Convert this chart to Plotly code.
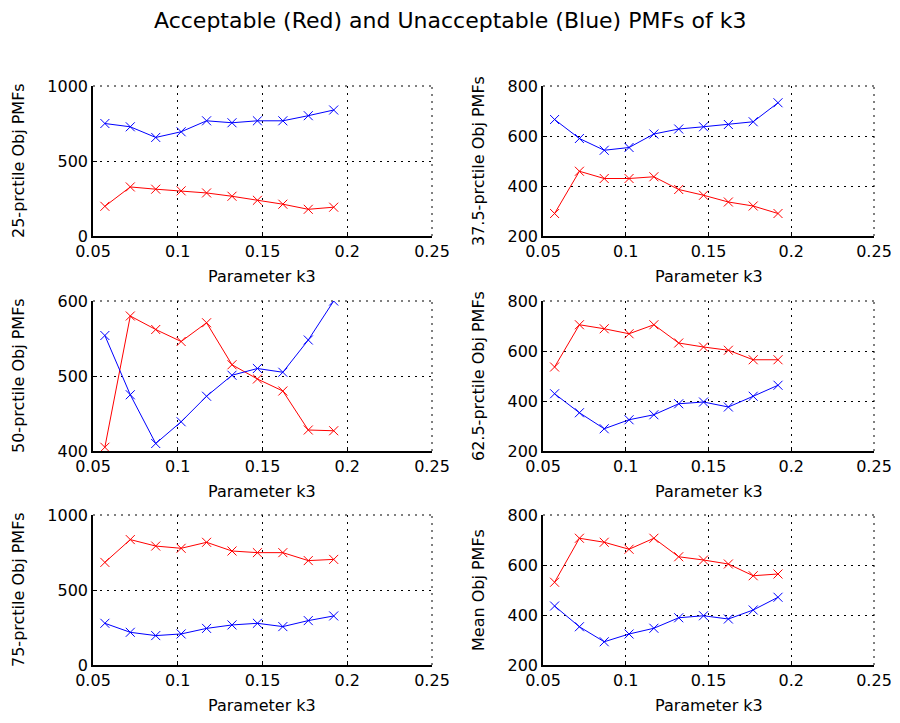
import plotly.graph_objects as go

k3 = [0.057, 0.072, 0.087, 0.102, 0.117, 0.132, 0.147, 0.162, 0.177, 0.192]

p25_red = [198, 327, 312, 301, 287, 265, 238, 212, 178, 192]
p25_blue = [750, 728, 657, 695, 768, 755, 768, 768, 802, 840]

p375_red = [290, 459, 430, 430, 437, 386, 363, 336, 320, 290]
p375_blue = [666, 590, 543, 554, 608, 628, 637, 646, 657, 733]

p50_red = [405, 580, 562, 546, 571, 515, 496, 480, 428, 427]
p50_blue = [554, 475, 410, 439, 473, 501, 510, 505, 548, 600]

p625_red = [536, 705, 689, 669, 705, 632, 616, 603, 565, 565]
p625_blue = [429, 353, 289, 325, 345, 389, 396, 376, 419, 463]

p75_red = [684, 836, 793, 778, 818, 760, 749, 749, 696, 704]
p75_blue = [278, 218, 196, 207, 244, 267, 278, 256, 296, 327]

mean_red = [531, 707, 691, 663, 707, 633, 620, 604, 557, 564]
mean_blue = [436, 353, 293, 324, 347, 389, 397, 384, 420, 471]

x_ticks = [0.05, 0.1, 0.15, 0.2, 0.25]
x_ticktext = ["0.05", "0.1", "0.15", "0.2", "0.25"]

panels = [
    ("25-prctile Obj PMFs", p25_red, p25_blue, [0, 1000], [0, 500, 1000]),
    ("37.5-prctile Obj PMFs", p375_red, p375_blue, [200, 800], [200, 400, 600, 800]),
    ("50-prctile Obj PMFs", p50_red, p50_blue, [400, 600], [400, 500, 600]),
    ("62.5-prctile Obj PMFs", p625_red, p625_blue, [200, 800], [200, 400, 600, 800]),
    ("75-prctile Obj PMFs", p75_red, p75_blue, [0, 1000], [0, 500, 1000]),
    ("Mean Obj PMFs", mean_red, mean_blue, [200, 800], [200, 400, 600, 800]),
]

# page body has an 8px default margin: a 884x707 figure fits the window exactly
OFF = 8
W, H = 900 - 2 * OFF, 723 - 2 * OFF
col_px = [(93 - OFF, 432 - OFF), (543 - OFF, 874 - OFF)]
row_px = [(86 - OFF, 236 - OFF), (301 - OFF, 451 - OFF), (515 - OFF, 665 - OFF)]
ylab_x = [18 - OFF, 478 - OFF]

FONT = "DejaVu Sans"
DASH = "2px,5px"
fig = go.Figure()
layout = dict(
    template="none",
    width=W, height=H,
    margin=dict(l=0, r=0, t=0, b=0, autoexpand=False),
    paper_bgcolor="white", plot_bgcolor="white",
    showlegend=False,
    font=dict(family=FONT, size=16, color="black"),
)
annotations = []
shapes = []

for i, (ylab, red, blue, yr, yt) in enumerate(panels):
    r, c = divmod(i, 2)
    n = i + 1
    xa = "x" if n == 1 else f"x{n}"
    ya = "y" if n == 1 else f"y{n}"
    x0, x1 = col_px[c]
    top, bot = row_px[r]
    for vals, colr in ((red, "#ff0000"), (blue, "#0000ff")):
        fig.add_trace(go.Scatter(
            x=k3, y=vals, mode="lines+markers", xaxis=xa, yaxis=ya,
            line=dict(color=colr, width=1),
            marker=dict(symbol="x-thin-open", size=9, color=colr,
                        line=dict(color=colr, width=1)),
            hoverinfo="skip",
        ))
    layout["xaxis" if n == 1 else f"xaxis{n}"] = dict(
        domain=[x0 / W, x1 / W], anchor=ya, range=[0.05, 0.25],
        tickvals=x_ticks, ticktext=x_ticktext, automargin=False,
        ticklabeloverflow="allow",
        showgrid=True, gridcolor="black", griddash=DASH, gridwidth=1,
        showline=True, linecolor="black", linewidth=1.5, mirror=False,
        ticks="inside", ticklen=4, tickcolor="black",
        zeroline=False, tickfont=dict(size=16, family=FONT),
    )
    layout["yaxis" if n == 1 else f"yaxis{n}"] = dict(
        domain=[1 - bot / H, 1 - top / H], anchor=xa, range=yr,
        tickvals=yt, ticktext=[str(v) for v in yt], automargin=False,
        ticklabeloverflow="allow",
        showgrid=True, gridcolor="black", griddash=DASH, gridwidth=1,
        showline=True, linecolor="black", linewidth=1.5, mirror=False,
        ticks="inside", ticklen=4, tickcolor="black",
        zeroline=False, tickfont=dict(size=16, family=FONT),
    )
    # dotted top and right box edges (grid lines at the limits)
    shapes.append(dict(type="line", xref=f"{xa} domain", yref=f"{ya} domain",
                       x0=0, x1=1, y0=1, y1=1, layer="below",
                       line=dict(color="black", width=1, dash=DASH)))
    shapes.append(dict(type="line", xref=f"{xa} domain", yref=f"{ya} domain",
                       x0=1, x1=1, y0=0, y1=1, layer="below",
                       line=dict(color="black", width=1, dash=DASH)))
    annotations.append(dict(
        text="Parameter k3", xref="paper", yref="paper",
        x=(x0 + x1) / 2 / W, y=1 - (bot + 40) / H,
        xanchor="center", yanchor="middle", showarrow=False,
        font=dict(size=16, family=FONT, color="black"),
    ))
    annotations.append(dict(
        text=ylab, xref="paper", yref="paper", textangle=-90,
        x=ylab_x[c] / W, y=1 - (top + bot) / 2 / H,
        xanchor="center", yanchor="middle", showarrow=False,
        font=dict(size=16, family=FONT, color="black"),
    ))

annotations.append(dict(
    text="Acceptable (Red) and Unacceptable (Blue) PMFs of k3",
    xref="paper", yref="paper", x=(450 - OFF) / W, y=1 - (20 - OFF) / H,
    xanchor="center", yanchor="middle", showarrow=False,
    font=dict(size=22, family=FONT, color="black"),
))
layout["annotations"] = annotations
layout["shapes"] = shapes
fig.update_layout(**layout)
fig.write_html("out.html")
